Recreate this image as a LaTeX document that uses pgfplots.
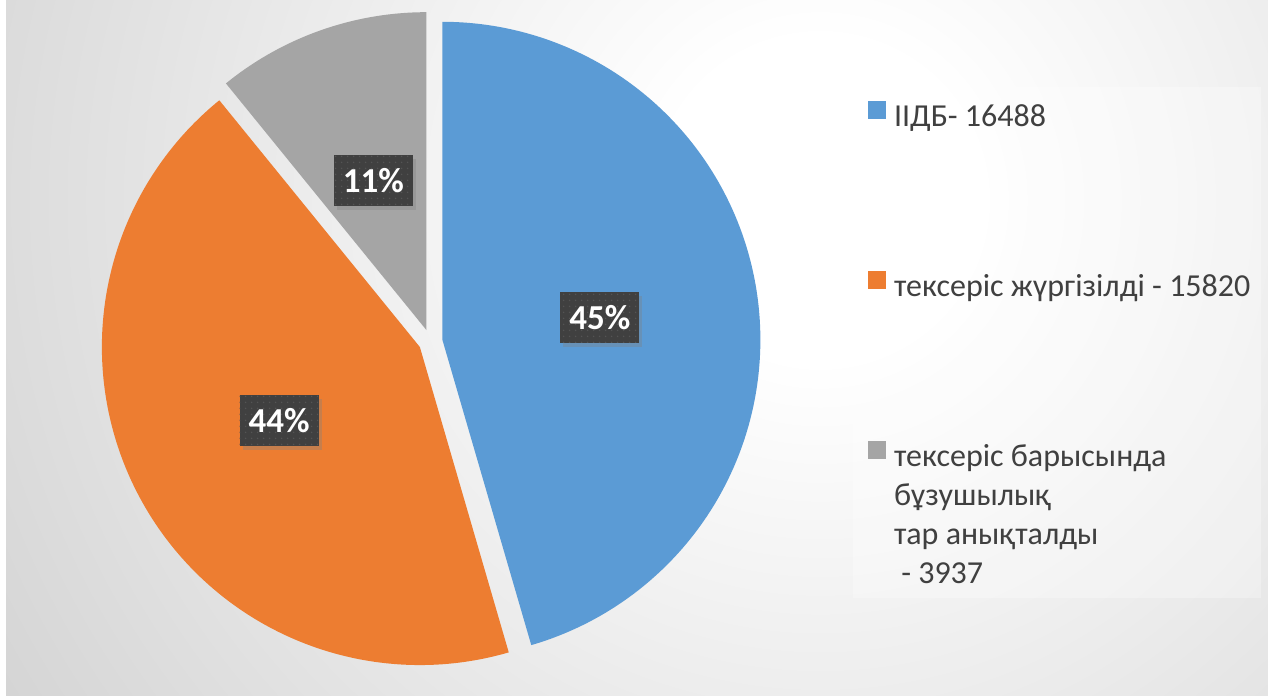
\documentclass[border=0pt]{standalone}
\usepackage{pgfplots}
\pgfplotsset{compat=1.18}
\usepackage{pgfplotstable}
\usepackage{fontspec}
\setmainfont{Carlito}
\usetikzlibrary{patterns.meta,shadows}

\definecolor{cBlue}{HTML}{5B9BD5}
\definecolor{cOrange}{HTML}{ED7D31}
\definecolor{cGray}{HTML}{A5A5A5}
\definecolor{cLab}{HTML}{404040}
\definecolor{cDot}{HTML}{545454}
\definecolor{cText}{HTML}{404040}

\pgfplotstableread{
id value
1 16488
2 15820
3 3937
}\piedata

\pgfdeclareradialshading{bgshade}{\pgfpointorigin}{color(0bp)=(white); color(4bp)=(white); color(28bp)=(black!20); color(50bp)=(black!24)}

\begin{document}
\begin{tikzpicture}[x=1bp,y=1bp]
\pgfplotstablegetelem{0}{value}\of\piedata \edef\va{\pgfplotsretval}
\pgfplotstablegetelem{1}{value}\of\piedata \edef\vb{\pgfplotsretval}
\pgfplotstablegetelem{2}{value}\of\piedata \edef\vc{\pgfplotsretval}
\edef\tot{\fpeval{\va+\vb+\vc}}
\def\R{318}\def\cx{430.5}\def\cy{354.5}\def\ex{12}\def\lr{171}
\edef\aA{90}
\edef\aB{\fpeval{90-360*\va/\tot}}
\edef\aC{\fpeval{\aB-360*\vb/\tot}}
\edef\aD{\fpeval{\aC-360*\vc/\tot}}
\edef\mA{\fpeval{(\aA+\aB)/2}}
\edef\mB{\fpeval{(\aB+\aC)/2}}
\edef\mC{\fpeval{(\aC+\aD)/2}}
\edef\xA{\fpeval{\cx+\ex*cosd(\mA)}}\edef\yA{\fpeval{\cy+\ex*sind(\mA)}}
\edef\xB{\fpeval{\cx+\ex*cosd(\mB)}}\edef\yB{\fpeval{\cy+\ex*sind(\mB)}}
\edef\xC{\fpeval{\cx+\ex*cosd(\mC)}}\edef\yC{\fpeval{\cy+\ex*sind(\mC)}}
\edef\lxA{\fpeval{\cx+\lr*cosd(\mA)}}\edef\lyA{\fpeval{\cy+\lr*sind(\mA)}}
\edef\lxB{\fpeval{\cx+\lr*cosd(\mB)}}\edef\lyB{\fpeval{\cy+\lr*sind(\mB)}}
\edef\lxC{\fpeval{\cx+\lr*cosd(\mC)}}\edef\lyC{\fpeval{\cy+\lr*sind(\mC)}}
\edef\pA{\fpeval{round(100*\va/\tot)}}
\edef\pB{\fpeval{round(100*\vb/\tot)}}
\edef\pC{\fpeval{round(100*\vc/\tot)}}
\useasboundingbox (0,0) rectangle (1268,696);
\fill[white] (0,0) rectangle (1268,696);
\begin{scope}
\clip (6,0) rectangle (1268,696);
\shade[shading=bgshade] (820,496) circle (1000);
\end{scope}
\fill[white, fill opacity=0.3] (853,98) rectangle (1261,609);
\tikzset{labbox/.style={fill=cLab, text=white, font=\fontsize{35bp}{35bp}\selectfont\bfseries,
  minimum width=79bp, minimum height=51bp, inner sep=0pt,
  drop shadow={opacity=0.35, shadow xshift=3bp, shadow yshift=-4bp},
  postaction={pattern={Dots[distance=6bp, radius=0.9bp]}, pattern color=cDot}}}
\begin{axis}[at={(0,0)}, anchor=south west, scale only axis,
  width=1268bp, height=696bp, xmin=0, xmax=1268, ymin=0, ymax=696,
  hide axis, clip=false,
  legend cell align=left,
  legend image code/.code={\fill[#1] (0bp,0bp) rectangle (18bp,18bp);},
  legend style={at={(0.68454,0.85417)}, anchor=north west, draw=none, fill=none,
    inner sep=0pt, outer sep=0pt, row sep=138bp, column sep=8bp,
    font=\fontsize{32bp}{38.7bp}\selectfont, text=cText,
    nodes={inner sep=0pt, text height=21.5bp, text depth=6.5bp}},
]
\addplot[fill=cBlue, draw=none, domain=\aB:\aA, samples=181, variable=\t]
  ({\xA+\R*cos(\t)}, {\yA+\R*sin(\t)}) -- (axis cs:\xA,\yA) -- cycle;
\addlegendentry{ІІДБ- 16488}
\addplot[fill=cOrange, draw=none, domain=\aC:\aB, samples=181, variable=\t]
  ({\xB+\R*cos(\t)}, {\yB+\R*sin(\t)}) -- (axis cs:\xB,\yB) -- cycle;
\addlegendentry{тексеріс жүргізілді - 15820}
\addplot[fill=cGray, draw=none, domain=\aD:\aC, samples=61, variable=\t]
  ({\xC+\R*cos(\t)}, {\yC+\R*sin(\t)}) -- (axis cs:\xC,\yC) -- cycle;
\addlegendentry{\parbox[t]{13cm}{\raggedright тексеріс барысында\\бұзушылық\\тар анықталды\\\ - 3937}}
\node[labbox] at (axis cs:\lxA,\lyA) {\pA\%};
\node[labbox] at (axis cs:\lxB,\lyB) {\pB\%};
\node[labbox] at (axis cs:\lxC,\lyC) {\pC\%};
\end{axis}
\end{tikzpicture}
\end{document}
